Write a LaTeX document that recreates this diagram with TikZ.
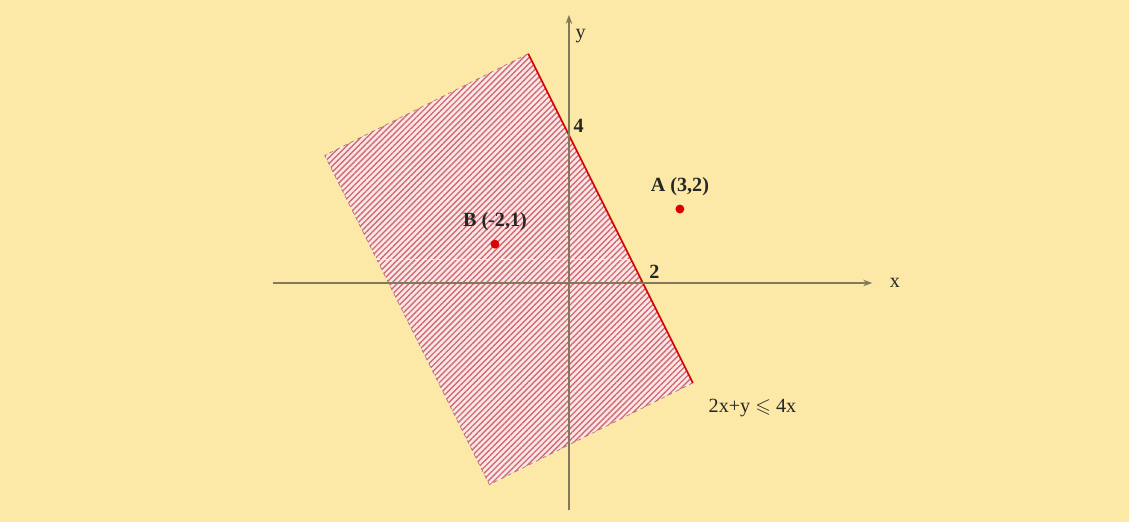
\documentclass[tikz,border=0pt]{standalone}
\usepackage{fontspec}
\setmainfont{Liberation Serif}
\usepackage{amssymb}
\usepackage{tikz}
\usetikzlibrary{arrows.meta,patterns.meta,positioning}
\definecolor{bgyellow}{RGB}{252,233,167}
\definecolor{axisgray}{RGB}{130,120,92}
\definecolor{hatchred}{RGB}{212,104,116}
\definecolor{hatchpink}{RGB}{250,232,230}

\begin{document}
\begin{tikzpicture}[
        >={Stealth[length=7pt,width=5pt]},
        font=\fontsize{15.5}{18}\selectfont,
        % Style cho các thành phần
        axis/.style={draw=axisgray, line width=0.9pt, ->},
        region/.style={pattern={Lines[angle=45,distance=3.2pt,line width=1.05pt]}, pattern color=hatchred},
        border/.style={draw=hatchred!55!gray, dashed, line width=0.5pt},
        bound/.style={draw=red!85!black, line width=1.3pt},
        pt/.style={circle, fill=red!85!black, inner sep=0pt, minimum size=2.4mm},
        lbl/.style={inner sep=2pt, text=black!85},
        blbl/.style={lbl, font=\fontsize{15.5}{18}\selectfont\bfseries}
    ]

        % Nền
        \fill[bgyellow] (-15.38,-6.46) rectangle (15.14,7.65);
        \useasboundingbox (-15.38,-6.46) rectangle (15.14,7.65);

        % Miền nghiệm
        \coordinate (P1) at (-1.1,6.2);
        \coordinate (P2) at (3.35,-2.7);
        \coordinate (P3) at (-2.15,-5.45);
        \coordinate (P4) at (-6.6,3.45);
        \fill[hatchpink] (P1) -- (P2) -- (P3) -- (P4) -- cycle;
        \path[region] (P1) -- (P2) -- (P3) -- (P4) -- cycle;
        \draw[border] (P2) -- (P3) -- (P4) -- (P1);
        \coordinate (dl) at (-5.22,0.65);
        \coordinate (dr) at (1.675,0.65);
        \draw[white, dashed, line width=0.4pt, opacity=0.8] (dl) -- (dr);
        \draw[bound] (P1) -- (P2);

        % Trục tọa độ
        \coordinate (xmin) at (-8,0);
        \coordinate (xmax) at (8.2,0);
        \coordinate (ymin) at (0,-6.15);
        \coordinate (ymax) at (0,7.25);
        \draw[axis] (xmin) -- (xmax);
        \draw[axis] (ymin) -- (ymax);
        \node[lbl, right=0.4cm of xmax] (xlab) {x};
        \node[lbl, below right=0.3cm and 0.1cm of ymax] (ylab) {y};

        % Giao điểm với trục
        \coordinate (c4) at (0,4);
        \coordinate (c2) at (2,0);
        \node[blbl, above right=0.0cm and 0.05cm of c4] (n4) {4};
        \node[blbl, above right=0.05cm and 0.1cm of c2] (n2) {2};

        % Các điểm
        \node[pt] (A) at (3,2) {};
        \node[pt] (B) at (-2,1.05) {};
        \node[blbl, above=1.5mm of A] (Alab) {A (3,2)};
        \node[blbl, above=1.5mm of B] (Blab) {B (-2,1)};
        \node[lbl, anchor=west] (ineq) at (3.7,-3.38) {2x+y $\leqslant$ 4x};

    \end{tikzpicture}
\end{document}
